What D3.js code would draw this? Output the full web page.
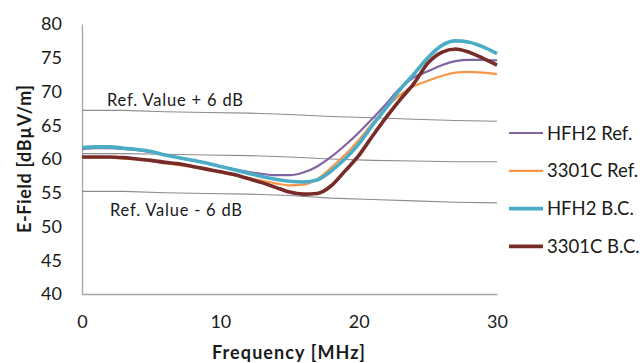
<!DOCTYPE html>
<html>
<head>
<meta charset="utf-8">
<script src="https://cdn.jsdelivr.net/npm/d3@7"></script>
<style>
  body { margin: 0; background: #fff; }
  svg { display: block; font-family: Lato, "Open Sans", sans-serif; }
</style>
</head>
<body>
<div id="chart"></div>
<script>
// frequency points (MHz)
const freqs = [0, 1, 2, 3, 4, 5, 6, 7, 8, 9, 10, 11, 12, 13, 14, 15,
  16, 17, 18, 19, 20, 21, 22, 23, 24, 25, 26, 27, 28, 29, 30];

const hfh2Ref = [61.5, 61.6, 61.6, 61.5, 61.3, 61.0, 60.6, 60.2, 59.8, 59.4, 58.9, 58.5, 58.1, 57.8, 57.6, 57.6,
  58.0, 58.9, 60.3, 62.0, 63.9, 66.0, 68.2, 70.5, 72.1, 73.0, 73.9, 74.5, 74.7, 74.7, 74.6];
const c3301Ref = [60.2, 60.2, 60.2, 60.1, 59.9, 59.7, 59.4, 59.1, 58.8, 58.4, 58.0, 57.6, 57.2, 56.8, 56.4, 56.1,
  56.2, 57.0, 58.7, 60.6, 62.8, 65.3, 67.6, 69.5, 70.8, 71.6, 72.3, 72.8, 72.9, 72.8, 72.6];
const hfh2BC = [61.7, 61.8, 61.8, 61.6, 61.4, 61.1, 60.6, 60.2, 59.8, 59.4, 58.9, 58.4, 57.9, 57.4, 57.0, 56.7,
  56.6, 56.9, 58.2, 60.0, 62.2, 65.0, 67.6, 70.3, 72.6, 75.0, 76.8, 77.5, 77.3, 76.6, 75.6];
const c3301BC = [60.3, 60.3, 60.3, 60.2, 60.0, 59.8, 59.5, 59.3, 58.9, 58.5, 58.1, 57.7, 57.1, 56.5, 55.8, 55.1,
  54.8, 54.9, 56.0, 58.2, 60.5, 63.4, 66.2, 68.8, 71.2, 74.2, 75.8, 76.3, 75.8, 74.9, 73.9];

// reference value lines (sampled every 3 MHz)
const refFreqs = [0, 3, 6, 9, 12, 15, 18, 21, 24, 27, 30];
const refPlus = [67.2, 67.2, 67.0, 66.9, 66.8, 66.6, 66.3, 66.1, 65.9, 65.7, 65.6];
const refMid = [60.8, 60.8, 60.7, 60.6, 60.5, 60.3, 60.0, 59.8, 59.7, 59.6, 59.6];
const refMinus = [55.2, 55.2, 55.0, 54.9, 54.8, 54.6, 54.2, 54.0, 53.8, 53.6, 53.5];

const xTicks = [0, 10, 20, 30];
const yTicks = [40, 45, 50, 55, 60, 65, 70, 75, 80];

const seriesNames = ['HFH2 Ref.', '3301C Ref.', 'HFH2 B.C.', '3301C B.C.'];
const seriesValues = [hfh2Ref, c3301Ref, hfh2BC, c3301BC];
const seriesColors = ['#8064a2', '#f79646', '#4bacc6', '#772c2a'];
const seriesWidths = [2.2, 2.2, 3.6, 3.6];

const width = 643, height = 363;
const margin = {top: 24, right: 146, bottom: 69, left: 82};

const svg = d3.select('#chart').append('svg')
  .attr('width', width)
  .attr('height', height);

const x = d3.scaleLinear().domain([0, 30]).range([margin.left, width - margin.right]);
const y = d3.scaleLinear().domain([40, 80]).range([height - margin.bottom, margin.top]);

// axes
const xAxis = svg.append('g')
  .attr('transform', `translate(0,${y(40)})`)
  .call(d3.axisBottom(x).tickValues(xTicks).tickSize(0).tickPadding(21));
const yAxis = svg.append('g')
  .attr('transform', `translate(${x(0)},0)`)
  .call(d3.axisLeft(y).tickValues(yTicks).tickSize(0).tickPadding(20));

[xAxis, yAxis].forEach(ax => {
  ax.select('.domain').attr('stroke', '#a6a6a6').attr('stroke-width', 1.3);
  ax.selectAll('text')
    .attr('fill', '#1a1a1a')
    .style('font-family', 'Lato, "Open Sans", sans-serif')
    .style('font-size', '18px');
});

// reference lines
const refLine = d3.line()
  .x((d, i) => x(refFreqs[i]))
  .y(d => y(d));

[refPlus, refMid, refMinus].forEach(vals => {
  svg.append('path')
    .datum(vals)
    .attr('d', refLine)
    .attr('fill', 'none')
    .attr('stroke', '#8c8c8c')
    .attr('stroke-width', 1.1);
});

svg.append('text')
  .attr('x', 107)
  .attr('y', 106)
  .attr('fill', '#1a1a1a')
  .attr('textLength', 136)
  .style('font-size', '16.5px')
  .text('Ref. Value + 6 dB');

svg.append('text')
  .attr('x', 110)
  .attr('y', 216)
  .attr('fill', '#1a1a1a')
  .attr('textLength', 132)
  .style('font-size', '16.5px')
  .text('Ref. Value - 6 dB');

// data series
const line = d3.line()
  .x((d, i) => x(freqs[i]))
  .y(d => y(d))
  .curve(d3.curveMonotoneX);

seriesValues.forEach((vals, i) => {
  svg.append('path')
    .datum(vals)
    .attr('d', line)
    .attr('fill', 'none')
    .attr('stroke', seriesColors[i])
    .attr('stroke-width', seriesWidths[i])
    .attr('stroke-linejoin', 'round');
});

// legend
const legend = svg.append('g').attr('transform', 'translate(509,133)');
seriesNames.forEach((name, i) => {
  const row = legend.append('g').attr('transform', `translate(0,${i * 37.8})`);
  row.append('line')
    .attr('x1', 0).attr('x2', 34)
    .attr('y1', 0).attr('y2', 0)
    .attr('stroke', seriesColors[i])
    .attr('stroke-width', seriesWidths[i]);
  row.append('text')
    .attr('x', 38)
    .attr('y', 6.5)
    .attr('fill', '#1a1a1a')
    .style('font-size', '18.5px')
    .text(name);
});

// axis titles
svg.append('text')
  .attr('x', x(15) - 1)
  .attr('y', 359)
  .attr('text-anchor', 'middle')
  .attr('fill', '#1a1a1a')
  .attr('textLength', 153)
  .style('font-size', '18px')
  .style('font-weight', 'bold')
  .text('Frequency [MHz]');

svg.append('text')
  .attr('transform', 'translate(31,159) rotate(-90)')
  .attr('text-anchor', 'middle')
  .attr('fill', '#1a1a1a')
  .attr('textLength', 148)
  .style('font-size', '18px')
  .style('font-weight', 'bold')
  .text('E-Field [dBµV/m]');
</script>
</body>
</html>
